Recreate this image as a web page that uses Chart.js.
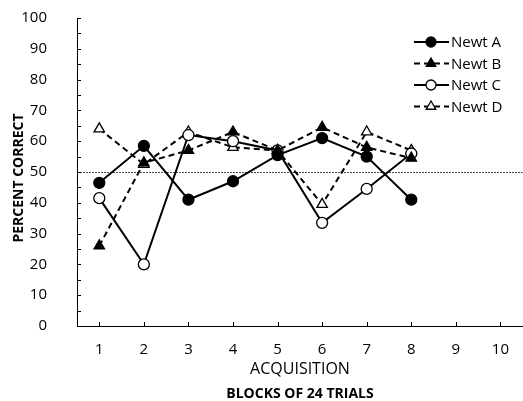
<!DOCTYPE html>
<html>
<head>
<meta charset="utf-8">
<script src="https://cdn.jsdelivr.net/npm/chart.js@4"></script>
<style>
  html,body{margin:0;padding:0;background:#fff;overflow:hidden;width:523px;height:401px;}
  canvas{display:block;}
</style>
</head>
<body>
<canvas id="chart" width="530" height="401"></canvas>
<script>
// DATA
const blocks = [1, 2, 3, 4, 5, 6, 7, 8];
const newtA = [46.5, 58.5, 41, 47, 55.5, 61, 55, 41];
const newtB = [26, 53, 57, 63, 57, 64.5, 58, 54.5];
const newtC = [41.5, 20, 62, 60, 57, 33.5, 44.5, 56];
const newtD = [64, 52.5, 63, 58, 57, 39.5, 63, 57];
const seriesNames = ["Newt A", "Newt B", "Newt C", "Newt D"];
const chanceLevel = 50;
const xTicks = [1, 2, 3, 4, 5, 6, 7, 8, 9, 10];

const FONT = "'Open Sans', 'Liberation Sans', sans-serif";

function makeSet(name, vals, point, filled, dashed){
    return {
        label: name,
        data: blocks.map((b, i) => ({x: b, y: vals[i]})),
        borderColor: "#000",
        borderWidth: 2,
        borderDash: dashed ? [6, 4] : [],
        pointStyle: point,
        pointRadius: point === "triangle" ? 6 : 5.5,
        pointBackgroundColor: filled ? "#000" : "#fff",
        pointBorderColor: "#000",
        pointBorderWidth: 1.3,
        fill: false,
        tension: 0
    };
}

// extra drawing: inside ticks, chance line, axis texts, legend
const extras = {
    id: "extras",
    beforeDatasetsDraw(chart){
        const ctx = chart.ctx, x = chart.scales.x, y = chart.scales.y;
        const area = chart.chartArea;
        ctx.save();
        ctx.strokeStyle = "#000";
        ctx.lineWidth = 1;
        // y ticks every 5, pointing into the plot
        for(let v = 0; v <= 100; v += 5){
            const py = Math.round(y.getPixelForValue(v)) + 0.5;
            ctx.beginPath(); ctx.moveTo(area.left, py); ctx.lineTo(area.left + 4, py); ctx.stroke();
        }
        xTicks.forEach(t => {
            const px = Math.round(x.getPixelForValue(t)) + 0.5;
            ctx.beginPath(); ctx.moveTo(px, area.bottom); ctx.lineTo(px, area.bottom - 4); ctx.stroke();
        });
        // chance line
        const cy = Math.round(y.getPixelForValue(chanceLevel)) + 0.5;
        ctx.setLineDash([2, 1]);
        ctx.lineWidth = 0.7;
        ctx.beginPath(); ctx.moveTo(area.left, cy); ctx.lineTo(area.right, cy); ctx.stroke();
        ctx.restore();
    },
    afterDraw(chart){
        const ctx = chart.ctx;
        ctx.save();
        ctx.fillStyle = "#000";
        ctx.textAlign = "center";
        ctx.textBaseline = "middle";
        ctx.font = "16px " + FONT;
        ctx.fillText("ACQUISITION", 300, 369);
        ctx.font = "bold 14px " + FONT;
        ctx.fillText("BLOCKS OF 24 TRIALS", 300, 394);
        ctx.translate(19, 178);
        ctx.rotate(-Math.PI / 2);
        ctx.fillText("PERCENT CORRECT", 0, 0);
        ctx.restore();

        // legend
        ctx.save();
        chart.data.datasets.forEach((ds, i) => {
            const ly = 42 + i * 21.5;
            ctx.strokeStyle = "#000";
            ctx.lineWidth = 2;
            ctx.setLineDash(ds.borderDash);
            ctx.beginPath(); ctx.moveTo(414, ly); ctx.lineTo(449, ly); ctx.stroke();
            ctx.setLineDash([]);
            ctx.lineWidth = 1.3;
            ctx.fillStyle = ds.pointBackgroundColor;
            Chart.helpers.drawPoint(ctx, {pointStyle: ds.pointStyle, radius: ds.pointStyle === "triangle" ? 5.5 : 5, borderWidth: 1.3}, 431, ly);
            ctx.fillStyle = "#000";
            ctx.font = "15px " + FONT;
            ctx.textAlign = "left";
            ctx.textBaseline = "middle";
            ctx.fillText(ds.label, 451, ly + 1);
        });
        ctx.restore();
    }
};

new Chart(document.getElementById("chart"), {
    type: "line",
    data: {
        datasets: [
            makeSet(seriesNames[0], newtA, "circle", true, false),
            makeSet(seriesNames[1], newtB, "triangle", true, true),
            makeSet(seriesNames[2], newtC, "circle", false, false),
            makeSet(seriesNames[3], newtD, "triangle", false, true)
        ]
    },
    options: {
        responsive: false,
        animation: false,
        layout: {padding: {top: 18, right: 0, left: 0, bottom: 0}},
        plugins: {legend: {display: false}, tooltip: {enabled: false}},
        scales: {
            x: {
                type: "linear",
                min: 0.5, max: 10.5,
                afterFit(s){ s.height = 75; s.paddingLeft = 0; s.paddingRight = 0; },
                afterBuildTicks(s){ s.ticks = xTicks.map(v => ({value: v})); },
                grid: {display: false},
                border: {display: true, color: "#000", width: 1},
                ticks: {color: "#000", font: {family: FONT, size: 15}, padding: 7, maxRotation: 0}
            },
            y: {
                min: 0, max: 100,
                afterFit(s){ s.width = 77; s.paddingTop = 0; s.paddingBottom = 0; },
                grid: {display: false},
                border: {display: true, color: "#000", width: 1},
                ticks: {stepSize: 10, color: "#000", font: {family: FONT, size: 15}, padding: 22}
            }
        }
    },
    plugins: [extras]
});
</script>
</body>
</html>
